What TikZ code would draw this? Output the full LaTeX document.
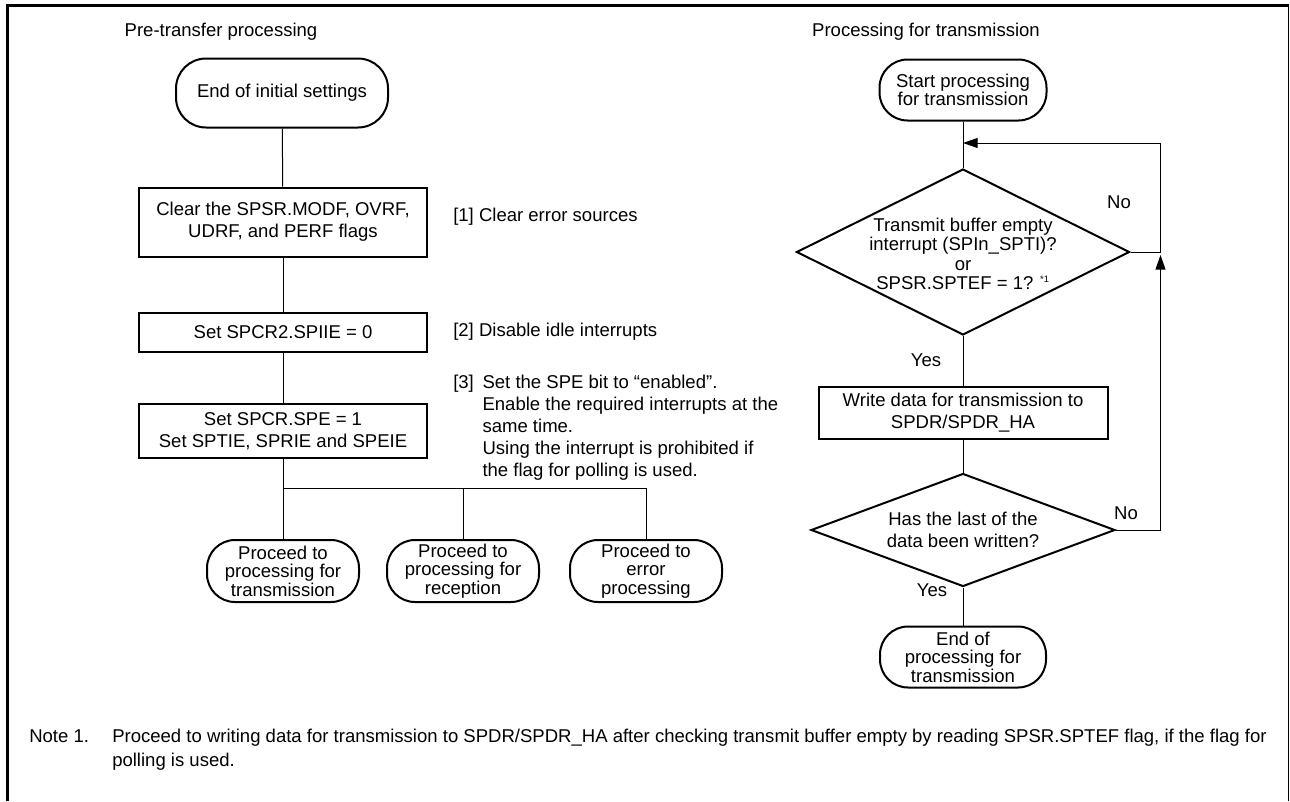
\documentclass[tikz,border=0pt]{standalone}
\usepackage{fontspec}
\setmainfont{Liberation Sans}
\usetikzlibrary{shapes.geometric,arrows.meta}
\def\u{0.75pt}
\tikzset{
  txt/.style={font=\fontsize{13.9}{16.5}\selectfont, inner sep=0pt, align=center},
  term/.style={txt, draw, line width=1.5pt, rounded corners=#1},
  box/.style={txt, draw, line width=1.5pt, rectangle},
  dia/.style={draw, line width=1.5pt, diamond, inner sep=0pt},
  conn/.style={line width=0.75pt},
  arr/.style={line width=0.75pt, -{Triangle[length=11pt, width=7.5pt]}},
}
\begin{document}
\begin{tikzpicture}[x=0.75pt,y=-0.75pt]
\useasboundingbox (0,0) rectangle (1290,801);
% frame
\draw[line width=2.25pt] (7,801) -- (7,5.5) -- (1289,5.5);
\draw[line width=0.75pt] (1288.5,5) -- (1288.5,801);

% ---------- left column ----------
\node[txt] (tl) at (221,32) {Pre-transfer processing};
\node[term=30*\u, minimum width=212*\u, minimum height=69*\u] (t0) at (282,93) {End of initial settings};
\node[box, minimum width=288*\u, minimum height=69*\u] (b1) at (283,222) {Clear the SPSR.MODF, OVRF,\\UDRF, and PERF flags};
\node[box, minimum width=288*\u, minimum height=39*\u] (b2) at (283,332) {Set SPCR2.SPIIE = 0};
\node[box, minimum width=288*\u, minimum height=54*\u] (b3) at (283,431) {Set SPCR.SPE = 1\\Set SPTIE, SPRIE and SPEIE};

\node[txt, anchor=west] (n1) at (453,217) {[1] Clear error sources};
\node[txt, anchor=west] (n2) at (453,332) {[2] Disable idle interrupts};
\node[txt, anchor=north west, align=left] (n3) at (453,373) {%
\begin{tabular}{@{}l@{\hspace{6.5pt}}l@{}}
[3] & Set the SPE bit to “enabled”.\\
 & Enable the required interrupts at the\\
 & same time.\\
 & Using the interrupt is prohibited if\\
 & the flag for polling is used.
\end{tabular}};

\node[term=28*\u, minimum width=152*\u, minimum height=62*\u, font=\fontsize{13.9}{13.9}\selectfont] (p1) at (283,571) {Proceed to\\processing for\\transmission};
\node[term=28*\u, minimum width=152*\u, minimum height=62*\u, font=\fontsize{13.9}{13.9}\selectfont] (p2) at (463,571) {Proceed to\\processing for\\reception};
\node[term=28*\u, minimum width=152*\u, minimum height=62*\u, font=\fontsize{13.9}{13.9}\selectfont] (p3) at (646,571) {Proceed to\\error\\processing};

\coordinate (j1) at (283,488);
\coordinate (j2) at (463,488);
\coordinate (j3) at (646,488);
\draw[conn] (t0) -- (b1);
\draw[conn] (b1) -- (b2);
\draw[conn] (b2) -- (b3);
\draw[conn] (b3) -- (p1);
\draw[conn] (j1) -- (j3) -- (p3);
\draw[conn] (j2) -- (p2);

% ---------- right column ----------
\node[txt] (tr) at (926,32) {Processing for transmission};
\node[term=28*\u, minimum width=167*\u, minimum height=61*\u, font=\fontsize{13.9}{13.9}\selectfont] (s) at (963,90) {Start processing\\for transmission};
\node[dia, minimum width=333*\u, minimum height=166*\u] (d1) at (963,252) {};
\node[txt, font=\fontsize{13.9}{14.6}\selectfont] (d1t) at (963,254) {Transmit buffer empty\\interrupt (SPIn\_SPTI)?\\or\\SPSR.SPTEF = 1? \textsuperscript{\scriptsize *1}};
\node[box, minimum width=289*\u, minimum height=52*\u] (w) at (963,413) {Write data for transmission to\\SPDR/SPDR\_HA};
\node[dia, minimum width=304*\u, minimum height=113*\u] (d2) at (963,530) {};
\node[txt] (d2t) at (963,530) {Has the last of the\\data been written?};
\node[term=28*\u, minimum width=166*\u, minimum height=61*\u, font=\fontsize{13.9}{13.9}\selectfont] (e) at (963,657) {End of\\processing for\\transmission};

\node[txt] (no1) at (1119,202) {No};
\node[txt] (yes1) at (926,360) {Yes};
\node[txt] (no2) at (1126,513) {No};
\node[txt] (yes2) at (932,590) {Yes};

\coordinate (m) at (963,143);
\coordinate (c1) at (1160.5,530);
\coordinate (c2) at (1160.5,252);
\coordinate (c2a) at (1160.5,255);
\coordinate (c3) at (1160.5,143);
\draw[conn] (s) -- (d1);
\draw[conn] (d1) -- (w);
\draw[conn] (w) -- (d2);
\draw[conn] (d2) -- (e);
\draw[conn] (d1.east) -- (c2);
\draw[arr] (d2.east) -- (c1) -- (c2a);
\draw[arr] (c2) -- (c3) -- (m);

% ---------- note ----------
\node[txt, anchor=west, align=left, font=\fontsize{13.9}{18}\selectfont] (note) at (29,750) {%
\begin{tabular}{@{}l@{}l@{}}
\makebox[62.25pt][l]{Note 1.} & Proceed to writing data for transmission to SPDR/SPDR\_HA after checking transmit buffer empty by reading SPSR.SPTEF flag, if the flag for\\
 & polling is used.
\end{tabular}};
\end{tikzpicture}
\end{document}
